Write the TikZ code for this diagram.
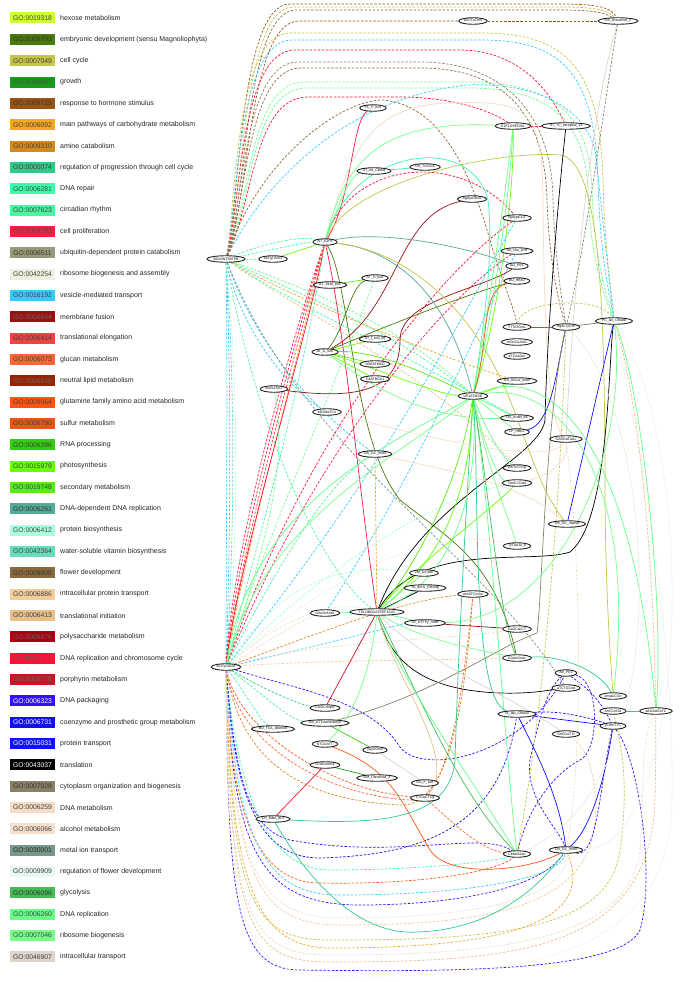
\documentclass[tikz,border=0pt]{standalone}
\usepackage{fontspec}
\setmainfont{Liberation Sans}
\usetikzlibrary{shapes.geometric}
\pgfdeclarelayer{bg}
\pgfsetlayers{bg,main}
\definecolor{c1}{HTML}{CCFF33}\definecolor{c2}{HTML}{4A7A0A}\definecolor{c3}{HTML}{C5C548}
\definecolor{c4}{HTML}{1A9A1A}\definecolor{c5}{HTML}{995511}\definecolor{c6}{HTML}{F5A623}
\definecolor{c7}{HTML}{D4891C}\definecolor{c8}{HTML}{2ECC8A}\definecolor{c9}{HTML}{3CFCAA}
\definecolor{c10}{HTML}{4AF5A0}\definecolor{c11}{HTML}{FF1A44}\definecolor{c12}{HTML}{999977}
\definecolor{c13}{HTML}{EEEEDD}\definecolor{c14}{HTML}{33CCFF}\definecolor{c15}{HTML}{991111}
\definecolor{c16}{HTML}{EE4444}\definecolor{c17}{HTML}{FF6633}\definecolor{c18}{HTML}{992200}
\definecolor{c19}{HTML}{FF5511}\definecolor{c20}{HTML}{EE5511}\definecolor{c21}{HTML}{33CC11}
\definecolor{c22}{HTML}{66FF11}\definecolor{c23}{HTML}{55EE11}\definecolor{c24}{HTML}{55AA99}
\definecolor{c25}{HTML}{AAFFDD}\definecolor{c26}{HTML}{66DDBB}\definecolor{c27}{HTML}{8A6A3A}
\definecolor{c28}{HTML}{F2CC99}\definecolor{c29}{HTML}{E8C088}\definecolor{c30}{HTML}{AA0011}
\definecolor{c31}{HTML}{FF1133}\definecolor{c32}{HTML}{CC1122}\definecolor{c33}{HTML}{3311FF}
\definecolor{c34}{HTML}{1111EE}\definecolor{c35}{HTML}{1111FF}\definecolor{c36}{HTML}{000000}
\definecolor{c37}{HTML}{8A8066}\definecolor{c38}{HTML}{F5DCC5}\definecolor{c39}{HTML}{F5E0CC}
\definecolor{c40}{HTML}{779988}\definecolor{c41}{HTML}{E8F8F0}\definecolor{c42}{HTML}{44BB55}
\definecolor{c43}{HTML}{66FF88}\definecolor{c44}{HTML}{77FF88}\definecolor{c45}{HTML}{DDD5CC}
\begin{document}
\begin{tikzpicture}[x=1pt,y=-1pt,
  gnode/.style={ellipse,draw=black!85,line width=0.9pt,fill=white,inner xsep=1pt,inner ysep=0.2pt,minimum height=6.5pt,font=\fontsize{3.5}{4}\selectfont},
  se/.style={line width=0.7pt},
  de/.style={line width=0.7pt,dash pattern=on 2.5pt off 1.6pt},
  legbox/.style={minimum width=45pt,minimum height=11pt,inner sep=0pt,font=\fontsize{6.8}{8}\selectfont},
  legtxt/.style={anchor=west,inner sep=0pt,font=\fontsize{7}{8}\selectfont,text=black!85}]
\useasboundingbox (0,0) rectangle (685,982);
% legend
\foreach \c/\g/\t/\tc [count=\i from 0] in {
c1/0019318/hexose metabolism/black!75,
c2/0009793/embryonic development (sensu Magnoliophyta)/black!80,
c3/0007049/cell cycle/black!75,
c4/0040007/growth/black!70,
c5/0009725/response to hormone stimulus/black!80,
c6/0006092/main pathways of carbohydrate metabolism/black!75,
c7/0009310/amine catabolism/black!75,
c8/0000074/regulation of progression through cell cycle/black!75,
c9/0006281/DNA repair/black!75,
c10/0007623/circadian rhythm/black!75,
c11/0008283/cell proliferation/black!70,
c12/0006511/ubiquitin-dependent protein catabolism/black!80,
c13/0042254/ribosome biogenesis and assembly/black!75,
c14/0016192/vesicle-mediated transport/black!75,
c15/0006944/membrane fusion/black!60,
c16/0006414/translational elongation/black!75,
c17/0006073/glucan metabolism/black!75,
c18/0006638/neutral lipid metabolism/black!60,
c19/0009064/glutamine family amino acid metabolism/black!75,
c20/0006790/sulfur metabolism/black!75,
c21/0006396/RNA processing/black!75,
c22/0015979/photosynthesis/black!75,
c23/0019748/secondary metabolism/black!75,
c24/0006261/DNA-dependent DNA replication/black!80,
c25/0006412/protein biosynthesis/black!75,
c26/0042364/water-soluble vitamin biosynthesis/black!75,
c27/0009908/flower development/black!80,
c28/0006886/intracellular protein transport/black!75,
c29/0006413/translational initiation/black!75,
c30/0005976/polysaccharide metabolism/black!60,
c31/0000067/DNA replication and chromosome cycle/black!65,
c32/0006778/porphyrin metabolism/black!60,
c33/0006323/DNA packaging/white!85,
c34/0006731/coenzyme and prosthetic group metabolism/white!85,
c35/0015031/protein transport/white!85,
c36/0043037/translation/white!80,
c37/0007028/cytoplasm organization and biogenesis/black!80,
c38/0006259/DNA metabolism/black!75,
c39/0006066/alcohol metabolism/black!75,
c40/0030001/metal ion transport/black!85,
c41/0009909/regulation of flower development/black!75,
c42/0006096/glycolysis/black!80,
c43/0006260/DNA replication/black!75,
c44/0007046/ribosome biogenesis/black!75,
c45/0046907/intracellular transport/black!75}
{
 \pgfmathsetmacro{\yy}{18+\i*21.34}
 \node[legbox,fill=\c,text=\tc] (L\i) at (32.5,\yy) {GO:\g};
 \node[legtxt] (T\i) at (60,\yy) {\t};
}
% graph nodes
\node[gnode] (n1) at (473,21) {aCCTyCmn};
\node[gnode] (n2) at (618,21) {OS\_Unnamed\_2};
\node[gnode] (n3) at (373,108) {PC\_P\_box};
\node[gnode] (n4) at (513,126) {E2F1OSPCNA};
\node[gnode] (n5) at (566,126) {ST\_TC\_mtrepeat\_s3};
\node[gnode] (n6) at (374,171) {ST\_ed\_CMAd};
\node[gnode] (n7) at (425,167) {OS\_TGGCA};
\node[gnode] (n8) at (472,199) {AgAyATbcA};
\node[gnode] (n9) at (517,218) {ngAyptCGT};
\node[gnode] (n10) at (325,242) {NT\_E2Fb};
\node[gnode] (n11) at (517,251) {SA\_che\_Unit};
\node[gnode] (n12) at (226,259) {BOXIINTPATPB};
\node[gnode] (n13) at (273,259) {sATgTGGG};
\node[gnode] (n14) at (517,266) {AG\_RE1};
\node[gnode] (n15) at (375,278) {ST\_G\_box};
\node[gnode] (n16) at (517,281) {BO\_HBE2};
\node[gnode] (n17) at (330,285) {AT\_1938\_box};
\node[gnode] (n18) at (614,321) {PC\_act\_CMAtb};
\node[gnode] (n19) at (517,327) {TTTATGnG};
\node[gnode] (n20) at (566,327) {rtgAcTyGm};
\node[gnode] (n21) at (375,339) {ST\_I\_box\_lib};
\node[gnode] (n22) at (517,342) {mGnCAAAG};
\node[gnode] (n23) at (325,352) {AT\_G\_box};
\node[gnode] (n24) at (517,356) {aTCAaGm};
\node[gnode] (n25) at (375,364) {SREATMSD};
\node[gnode] (n26) at (375,379) {CAATBOX1};
\node[gnode] (n27) at (517,381) {OS\_AACA\_motif};
\node[gnode] (n28) at (274,389) {sssGATyCr};
\node[gnode] (n29) at (473,396) {UP1ATMSD};
\node[gnode] (n30) at (327,412) {bDSMeTCn};
\node[gnode] (n31) at (517,418) {OS\_ecdbl\_8a};
\node[gnode] (n32) at (517,432) {LP\_HBE2};
\node[gnode] (n33) at (566,439) {GARGATAAL};
\node[gnode] (n34) at (375,454) {OS\_GC\_motif};
\node[gnode] (n35) at (517,468) {bmTsTCGg};
\node[gnode] (n36) at (517,483) {TwnCCGaG};
\node[gnode] (n37) at (567,524) {OS\_GC\_repeat};
\node[gnode] (n38) at (517,546) {TyTAAAt\_b};
\node[gnode] (n39) at (424,573) {ZM\_O2-site};
\node[gnode] (n40) at (425,588) {TA\_ducS\_CMAdg};
\node[gnode] (n41) at (473,594) {wntSTCmAn};
\node[gnode] (n42) at (377,612) {TELOBOXATEEF1AA1};
\node[gnode] (n43) at (325,613) {GAeGrAmO};
\node[gnode] (n44) at (425,623) {LE\_tcTFPy\_motif};
\node[gnode] (n45) at (517,629) {GaGCacCT};
\node[gnode] (n46) at (517,658) {CGAeGnAc};
\node[gnode] (n47) at (226,667) {aCCyGAGA};
\node[gnode] (n48) at (566,673) {AB\_PE3};
\node[gnode] (n49) at (566,688) {aTCTGCnd};
\node[gnode] (n50) at (613,696) {wmaGCGn};
\node[gnode] (n51) at (325,708) {CGGCmrpG};
\node[gnode] (n52) at (613,711) {AnCCnCkt};
\node[gnode] (n53) at (656,711) {aAGAAGnTC};
\node[gnode] (n54) at (517,714) {TA\_atp\_CMAAc};
\node[gnode] (n55) at (325,723) {OS\_GTCAdoenbeyo};
\node[gnode] (n56) at (613,726) {yCAmTTC};
\node[gnode] (n57) at (273,729) {BO\_TCA\_element};
\node[gnode] (n58) at (566,734) {GnCGaTTc};
\node[gnode] (n59) at (325,744) {NTCGnTT};
\node[gnode] (n60) at (375,750) {yayCGmll};
\node[gnode] (n61) at (325,765) {GTAGmeGy};
\node[gnode] (n62) at (377,778) {GM\_Unnamed\_3};
\node[gnode] (n63) at (425,783) {OS\_P\_box};
\node[gnode] (n64) at (425,798) {CTGaCTCg};
\node[gnode] (n65) at (273,819) {CR\_MBA\_lb-s};
\node[gnode] (n66) at (517,854) {CbaeGAeu};
\node[gnode] (n67) at (566,850) {OS\_GC\_motif};
\begin{pgfonlayer}{bg}
\fill[white] (0,0) rectangle (685,982);
% ---- top dashed loops (vertical rise from BOXIINTPATPB, then across the top)
\draw[de,c5] (n12) .. controls (240,200) and (240,4) .. (290,4) -- (560,4) .. controls (600,4) and (612,8) .. (n2);
\draw[de,c3] (n12) .. controls (243,200) and (243,7) .. (293,7) -- (560,7) .. controls (595,7) and (608,10) .. (n2);
\draw[de,c27] (n12) .. controls (246,200) and (246,10) .. (296,10) -- (560,10) .. controls (590,10) and (604,12) .. (n2);
\draw[de,c5] (n12) .. controls (249,200) and (249,21) .. (299,21) -- (n1);
\draw[de,c5] (n1) -- (n2);
\draw[de,c3] (n12) .. controls (236,200) and (236,33) .. (290,33) -- (480,33) .. controls (560,33) and (600,60) .. (603,180) .. controls (605,260) and (612,290) .. (n18);
\draw[de,c14] (n12) .. controls (238,200) and (238,40) .. (292,40) -- (480,40) .. controls (555,40) and (595,65) .. (598,180) .. controls (600,260) and (610,295) .. (n18);
\draw[de,c31] (n12) .. controls (241,200) and (241,50) .. (295,50) -- (460,50) .. controls (500,50) and (540,70) .. (n5);
\draw[de,c37] (n12) .. controls (244,200) and (244,62) .. (298,62) -- (420,62) .. controls (500,62) and (552,110) .. (553,200) .. controls (555,260) and (562,300) .. (n20);
\draw[de,c27] (n12) .. controls (247,200) and (247,68) .. (301,68) -- (420,68) .. controls (505,68) and (545,115) .. (547,200) .. controls (549,260) and (558,300) .. (n20);
\draw[de,c44] (n12) .. controls (250,200) and (250,82) .. (304,82) -- (460,82) .. controls (560,80) and (590,120) .. (592,190) .. controls (594,260) and (608,300) .. (n18);
\draw[de,c43] (n12) .. controls (252,200) and (252,88) .. (306,88) -- (460,88) .. controls (555,86) and (585,125) .. (588,190) .. controls (590,260) and (606,300) .. (n18);
\draw[de,c14] (n12) .. controls (255,200) and (330,100) .. (467,85) .. controls (540,82) and (585,110) .. (595,150) .. controls (603,220) and (610,290) .. (n18);
\draw[de,c31] (n12) .. controls (254,200) and (254,97) .. (308,97) -- (400,97) .. controls (450,97) and (490,110) .. (n4);
\draw[de,c27] (n12) .. controls (258,160) and (340,100) .. (383,100) .. controls (440,105) and (470,170) .. (490,240) .. controls (505,290) and (515,310) .. (n19);
\draw[de,c31] (n4) -- (n5);
\draw[se,c45] (n2) .. controls (595,100) and (575,250) .. (n33);
\draw[de,c37] (n2) .. controls (605,100) and (585,250) .. (n20);
\draw[de,c3] (n19) .. controls (520,300) and (600,295) .. (n18);
% ---- BOXIINT dashed fan
\draw[de,c10] (n12) .. controls (260,245) and (300,235) .. (n10);
\draw[de,c9] (n12) .. controls (262,252) and (305,242) .. (n10);
\draw[de,c44] (n12) -- (n13);
\draw[de,c43] (n12) .. controls (280,280) and (400,320) .. (n29);
\draw[de,c10] (n12) .. controls (280,286) and (400,332) .. (n29);
\draw[de,c6] (n12) .. controls (280,292) and (420,350) .. (n27);
\draw[de,c9] (n12) .. controls (285,300) and (420,362) .. (n31);
\draw[de,c29] (n12) .. controls (290,305) and (440,380) .. (n35);
\draw[de,c14] (n12) .. controls (228,400) and (226,550) .. (n47);
\draw[de,c14] (n12) .. controls (232,400) and (230,550) .. (n47);
\draw[de,c26] (n12) .. controls (236,400) and (234,550) .. (n47);
\draw[de,c25] (n12) .. controls (240,400) and (238,550) .. (n47);
\draw[de,c14] (n12) .. controls (240,330) and (290,390) .. (n30);
\draw[de,c14] (n12) .. controls (250,330) and (300,400) .. (n34);
\draw[de,c40] (n12) .. controls (300,450) and (480,550) .. (n49);
\draw[de,c10] (n12) .. controls (260,450) and (330,580) .. (n42);
% ---- NT_E2Fb -> aCCyGAGA bundle
\draw[de,c31] (n10) .. controls (295,340) and (236,550) .. (n47);
\draw[de,c11] (n10) .. controls (291,340) and (232,550) .. (n47);
\draw[de,c16] (n10) .. controls (299,340) and (240,550) .. (n47);
\draw[de,c6] (n10) .. controls (303,340) and (244,550) .. (n47);
\draw[se,c31] (n10) .. controls (307,340) and (238,560) .. (n47);
\draw[de,c10] (n10) .. controls (300,400) and (252,560) .. (n47);
\draw[de,c44] (n15) .. controls (330,400) and (256,560) .. (n47);
% ---- red dashed via ngAyptCGT
\draw[de,c31] (n10) .. controls (350,160) and (460,150) .. (n9);
\draw[de,c31] (n9) .. controls (430,280) and (300,450) .. (n47);
\draw[de,c11] (n11) .. controls (440,300) and (310,460) .. (n47);
\draw[de,c14] (n9) .. controls (470,300) and (400,450) .. (n47);
\draw[de,c14] (n11) .. controls (480,320) and (420,470) .. (n43);
% ---- aCCyGAGA fan
\draw[de,c7] (n47) .. controls (300,640) and (400,600) .. (n41);
\draw[de,c38] (n47) .. controls (270,640) and (300,620) .. (n43);
\draw[de,c39] (n47) .. controls (280,620) and (330,600) .. (n42);
\draw[de,c25] (n47) .. controls (270,600) and (320,560) .. (n39);
\draw[de,c10] (n47) .. controls (270,700) and (290,720) .. (n55);
\draw[de,c8] (n47) .. controls (265,690) and (300,705) .. (n51);
\draw[de,c9] (n47) .. controls (250,700) and (260,720) .. (n57);
\draw[de,c14] (n47) .. controls (300,650) and (420,620) .. (n44);
\draw[de,c38] (n47) .. controls (320,640) and (450,640) .. (n45);
\draw[de,c28] (n47) .. controls (320,660) and (450,660) .. (n46);
\draw[de,c13] (n47) .. controls (300,600) and (420,520) .. (n38);
\draw[de,c25] (n47) .. controls (300,590) and (420,500) .. (n36);
\draw[de,c10] (n47) .. controls (280,560) and (330,480) .. (n34);
\draw[de,c43] (n47) .. controls (260,560) and (290,470) .. (n28);
\draw[de,c33] (n47) .. controls (300,690) and (370,700) .. (400,747) .. controls (420,775) and (520,760) .. (n48);
\draw[de,c7] (n47) .. controls (240,760) and (300,800) .. (400,805) .. controls (450,808) and (465,700) .. (n41);
\draw[de,c17] (n47) .. controls (236,740) and (320,795) .. (410,800) .. controls (445,802) and (460,720) .. (n41);
\draw[de,c19] (n47) .. controls (238,730) and (330,790) .. (n64);
\draw[de,c6] (n34) -- (n42);
% ---- bottom loops
\draw[de,c33] (n47) .. controls (228,900) and (235,970) .. (300,970) .. controls (450,972) and (620,972) .. (640,930) .. controls (655,880) and (640,760) .. (n56);
\draw[de,c33] (n47) .. controls (232,850) and (260,905) .. (360,905) .. controls (450,905) and (540,890) .. (n67);
\draw[de,c34] (n47) .. controls (234,800) and (260,858) .. (320,858) .. controls (420,855) and (500,830) .. (n54);
\draw[de,c19] (n47) .. controls (230,820) and (260,883) .. (320,883) .. controls (430,885) and (500,870) .. (n66);
\draw[de,c14] (n47) .. controls (236,850) and (270,895) .. (340,895) .. controls (460,895) and (560,880) .. (n67);
\draw[de,c9] (n47) .. controls (238,800) and (270,870) .. (330,870) .. controls (430,870) and (500,860) .. (n66);
\draw[de,c3] (n47) .. controls (231,900) and (250,940) .. (330,940) .. controls (500,940) and (610,930) .. (620,850) .. controls (630,780) and (620,740) .. (n52);
\draw[de,c38] (n47) .. controls (229,920) and (250,955) .. (330,955) .. controls (500,955) and (630,940) .. (640,850) .. controls (645,780) and (640,740) .. (n53);
\draw[de,c29] (n47) .. controls (229,930) and (250,962) .. (330,962) .. controls (520,962) and (650,950) .. (655,800) .. controls (660,600) and (640,400) .. (n18);
\draw[de,c28] (n47) .. controls (233,880) and (260,925) .. (340,925) .. controls (480,925) and (590,910) .. (595,820) .. controls (597,780) and (590,750) .. (n58);
\draw[de,c39] (n47) .. controls (232,870) and (260,918) .. (340,918) .. controls (470,918) and (570,900) .. (n67);
\draw[de,c33] (n47) .. controls (235,780) and (250,830) .. (290,840) .. controls (400,860) and (480,830) .. (n66);
\draw[de,c6] (n47) .. controls (230,880) and (255,948) .. (330,948) .. controls (480,948) and (600,930) .. (n67);
\draw[de,c13] (n47) .. controls (227,930) and (245,975) .. (330,976) .. controls (520,978) and (670,960) .. (672,800) .. controls (674,650) and (650,500) .. (n18);
% ---- blue dashed around AB_PE3
\draw[de,c33] (n48) .. controls (545,690) and (537,730) .. (530,760) .. controls (525,800) and (560,830) .. (n67);
\draw[de,c33] (n48) .. controls (600,680) and (600,750) .. (580,760) .. controls (560,770) and (530,800) .. (n66);
\draw[de,c34] (n54) .. controls (560,710) and (590,718) .. (n56);
\draw[de,c33] (n48) .. controls (590,690) and (600,700) .. (n56);
\draw[de,c33] (n56) .. controls (600,780) and (598,860) .. (n67);
\draw[de,c17] (n64) .. controls (450,820) and (480,850) .. (n66);
\draw[de,c3] (n20) .. controls (560,500) and (545,700) .. (n66);
\draw[de,c38] (n33) .. controls (580,550) and (585,750) .. (n67);
% ---- solid edges
\draw[se,c11] (n3) .. controls (352,120) and (352,200) .. (n10);
\draw[se,c11] (n10) .. controls (345,330) and (360,500) .. (n42);
\draw[se,c2] (n10) .. controls (350,280) and (352,440) .. (400,500) .. controls (450,540) and (495,560) .. (n46);
\draw[se,c2] (n23) .. controls (345,330) and (350,285) .. (n15);
\draw[se,c2] (n23) .. controls (400,320) and (480,290) .. (n16);
\draw[se,c15] (n23) .. controls (400,310) and (395,215) .. (n8);
\draw[se,c15] (n28) .. controls (360,400) and (400,390) .. (400,340) .. controls (400,300) and (480,290) .. (n14);
\draw[se,c23] (n17) -- (n15);
\draw[se,c22] (n13) -- (n10);
\draw[se,c24] (n10) .. controls (380,230) and (460,245) .. (n14);
\draw[se,c24] (n10) .. controls (400,250) and (450,300) .. (n29);
\draw[se,c3] (n10) .. controls (350,180) and (500,150) .. (560,155) .. controls (600,160) and (605,300) .. (605,500) .. controls (606,600) and (610,650) .. (n50);
\draw[se,c3] (n10) .. controls (400,250) and (470,300) .. (510,400) .. controls (530,450) and (540,490) .. (n37);
\draw[se,c38] (n10) .. controls (350,150) and (370,105) .. (450,103) .. controls (530,100) and (542,110) .. (543,200) .. controls (544,320) and (548,420) .. (n33);
\draw[se,c44] (n10) .. controls (345,160) and (380,120) .. (n4);
\draw[se,c9] (n10) .. controls (350,150) and (470,130) .. (488,200) .. controls (495,260) and (480,350) .. (n29);
\draw[se,c44] (n10) .. controls (340,200) and (350,175) .. (n6);
\draw[se,c9] (n6) -- (n7);
\draw[se,c44] (n4) .. controls (505,200) and (485,330) .. (n29);
\draw[se,c43] (n4) .. controls (510,200) and (490,330) .. (n29);
\draw[se,c22] (n4) .. controls (515,200) and (495,330) .. (n29);
\draw[se,c36] (n5) .. controls (558,200) and (547,330) .. (545,420) .. controls (540,460) and (420,500) .. (n42);
\draw[se,c36] (n18) .. controls (608,360) and (610,520) .. (570,552) .. controls (530,565) and (420,540) .. (n42);
\draw[se,c36] (n42) -- (n40);
\draw[se,c36] (n42) .. controls (390,660) and (420,690) .. (500,693) .. controls (530,694) and (550,690) .. (n49);
\draw[se,c35] (n18) -- (n37);
\draw[se,c34] (n20) .. controls (555,380) and (550,425) .. (n32);
\draw[se,c27] (n19) -- (n20);
\draw[se,c37] (n20) -- (n18);
\draw[se,c20] (n29) .. controls (490,340) and (480,290) .. (n16);
\draw[se,c15] (n44) -- (n45);
\draw[se,c8] (n46) .. controls (560,655) and (600,670) .. (n50);
\draw[se,c8] (n52) -- (n53);
\draw[se,c43] (n18) .. controls (640,380) and (665,600) .. (n53);
\draw[se,c35] (n54) -- (n56);
\draw[se,c35] (n67) .. controls (560,800) and (540,760) .. (n54);
\draw[se,c34] (n67) .. controls (590,830) and (605,780) .. (n56);
\draw[se,c37] (n55) .. controls (430,697) and (497,647) .. (537,633) .. controls (542,600) and (545,420) .. (n20);
\draw[se,c32] (n42) -- (n51);
\draw[se,c31] (n61) -- (n65);
\draw[se,c4] (n61) -- (n62);
\draw[se,c21] (n55) -- (n60);
\draw[se,c19] (n59) .. controls (393,770) and (400,800) .. (430,850) .. controls (450,880) and (530,870) .. (n67);
\draw[se,c45] (n60) -- (n63);
\draw[se,c8] (n65) .. controls (380,825) and (450,820) .. (455,760) .. controls (460,600) and (470,450) .. (n29);
\draw[se,c8] (n65) .. controls (320,900) and (370,935) .. (417,932) .. controls (480,930) and (530,900) .. (n67);
\draw[se,c43] (n66) .. controls (505,750) and (490,500) .. (n29);
\draw[se,c42] (n66) .. controls (463,797) and (430,720) .. (n42);
% greens around UP1ATMSD
\draw[se,c22] (n29) -- (n27);
\draw[se,c43] (n29) -- (n31);
\draw[se,c44] (n29) -- (n32);
\draw[se,c43] (n29) .. controls (490,440) and (505,460) .. (n35);
\draw[se,c44] (n29) .. controls (485,450) and (500,480) .. (n36);
\draw[se,c22] (n29) .. controls (470,500) and (440,560) .. (n42);
\draw[se,c23] (n29) .. controls (460,480) and (420,560) .. (n42);
\draw[se,c43] (n29) .. controls (480,500) and (450,580) .. (n42);
\draw[se,c42] (n29) .. controls (490,500) and (500,620) .. (n46);
\draw[se,c8] (n29) .. controls (480,480) and (470,700) .. (n54);
\draw[se,c44] (n29) .. controls (490,480) and (510,520) .. (n38);
\draw[se,c43] (n29) .. controls (400,440) and (250,500) .. (n47);
\draw[se,c44] (n29) .. controls (410,450) and (260,520) .. (n47);
\draw[se,c43] (n29) .. controls (540,365) and (630,420) .. (n53);
\draw[se,c44] (n29) .. controls (560,380) and (640,480) .. (n50);
\draw[se,c23] (n23) .. controls (380,350) and (440,380) .. (n29);
\draw[se,c22] (n23) .. controls (380,370) and (440,395) .. (n29);
\draw[se,c22] (n23) -- (n21);
\draw[se,c23] (n23) -- (n25);
\draw[se,c22] (n23) -- (n26);
\draw[se,c44] (n23) .. controls (390,400) and (440,420) .. (n31);
\draw[se,c44] (n18) .. controls (630,450) and (560,620) .. (n44);
% greens around TELOBOX
\draw[se,c44] (n42) -- (n39);
\draw[se,c44] (n42) -- (n43);
\draw[se,c43] (n42) -- (n44);
\draw[se,c22] (n42) .. controls (420,560) and (480,520) .. (n36);
\draw[se,c44] (n42) .. controls (370,680) and (350,720) .. (n59);
\draw[se,c43] (n42) .. controls (400,680) and (460,760) .. (n66);
\draw[se,c44] (n42) .. controls (420,640) and (480,650) .. (n46);
% pale solid
\draw[se,c38] (n34) .. controls (420,465) and (520,480) .. (n37);
\draw[se,c39] (n30) .. controls (400,430) and (550,470) .. (n33);
\draw[se,c45] (n42) .. controls (420,660) and (500,690) .. (n58);
\draw[se,c38] (n33) .. controls (570,470) and (530,480) .. (n36);
\draw[se,c41] (n18) .. controls (700,450) and (690,850) .. (n67);
\draw[se,c13] (n20) .. controls (650,400) and (690,780) .. (n66);
\draw[se,c29] (n42) .. controls (395,680) and (460,760) .. (n64);
\end{pgfonlayer}
\end{tikzpicture}
\end{document}
